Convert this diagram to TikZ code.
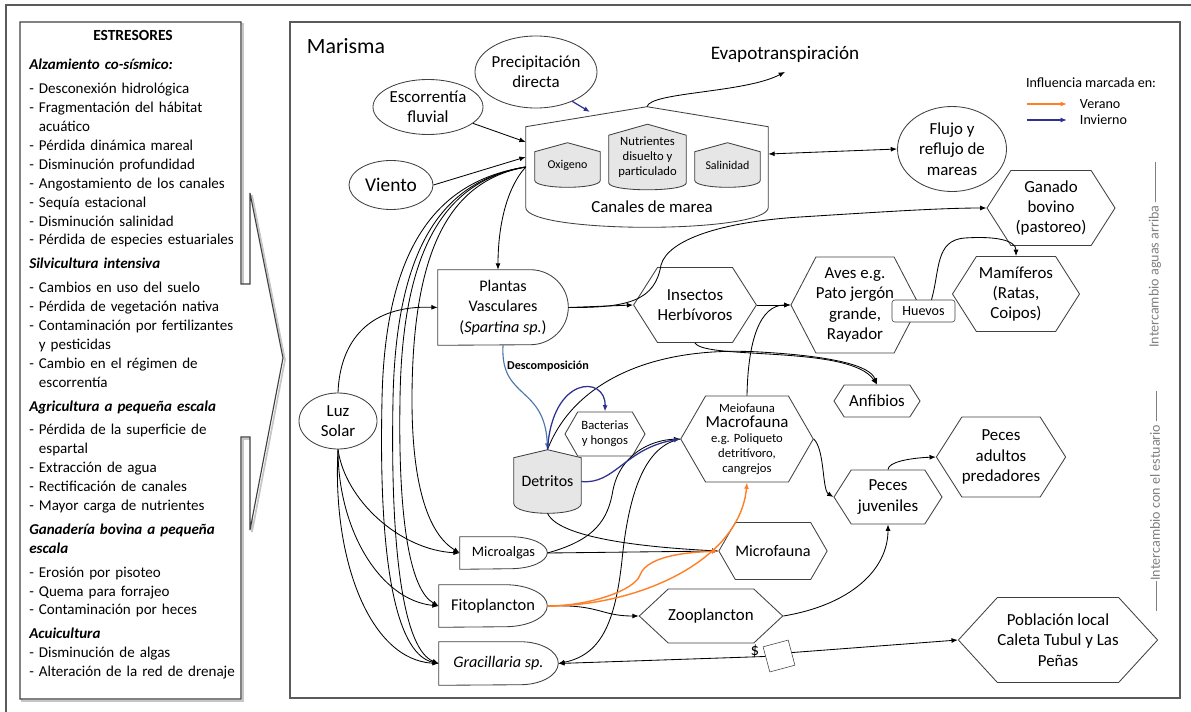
\documentclass[tikz,border=0pt]{standalone}
\usepackage{fontspec}
\setmainfont{Carlito}
\usepackage{xcolor}
\definecolor{borde}{HTML}{404040}
\definecolor{marco}{HTML}{5A5A5A}
\definecolor{relleno}{HTML}{E6E6E6}
\definecolor{verano}{HTML}{FF7F27}
\definecolor{invierno}{HTML}{2E3192}
\definecolor{descomp}{HTML}{4A76A8}
\definecolor{rotulo}{HTML}{7F7F7F}
\usepackage{tikz}
\usetikzlibrary{shapes.geometric, shapes.symbols, arrows.meta, positioning, backgrounds}

\begin{document}
\begin{tikzpicture}[
  x=0.025cm, y=0.025cm,
  font=\fontsize{12}{14.5}\selectfont,
  every node/.style={align=center},
  chica/.style={font=\fontsize{9}{10.7}\selectfont},
  ovalo/.style={ellipse, draw=borde, line width=0.6pt, inner sep=-4pt},
  hexa/.style={signal, signal to=east and west, signal pointer angle=115,
    draw=borde, line width=0.6pt, inner sep=0pt},
  dnodo/.style={rectangle, inner sep=0pt},
  cuba/.style={rectangle, inner sep=0pt},
  arrow/.style={-{Latex[length=4.5pt,width=3.5pt]}, line width=0.6pt, color=black},
  veranoflecha/.style={arrow, color=verano, line width=1pt},
  inviernoflecha/.style={arrow, color=invierno, line width=0.9pt},
]
  \useasboundingbox (0,0) rectangle (1191,-711);

  % marcos
  \draw[marco, line width=1pt] (6,-713) |- (1193,-5);
  \draw[marco, line width=1pt] (290,-22) rectangle (1180,-698);
  \draw[gray!45, line width=1.2pt, shift={(2,-2)}] (20,-22) -- (241,-22) -- (241,-284) -- (250,-284)
    -- (250,-193) -- (283,-358) -- (250,-530) -- (250,-437) -- (241,-437) -- (241,-699) -- (20,-699) -- cycle;
  \draw[borde, line width=0.8pt, fill=white] (20,-22) -- (241,-22) -- (241,-284) -- (250,-284)
    -- (250,-193) -- (283,-358) -- (250,-530) -- (250,-437) -- (241,-437) -- (241,-699) -- (20,-699) -- cycle;

  % estresores
  \node[font=\fontsize{11}{13}\selectfont\bfseries] (titulo) at (133,-35) {ESTRESORES};
  \node[anchor=north west, inner sep=0pt, text width=5.4cm, align=left,
    font=\fontsize{10.7}{13.45}\selectfont] (lista) at (29,-59) {%
    \textbf{\textit{Alzamiento co-sísmico:}}\\[3.5pt]
    - Desconexión hidrológica\\
    - Fragmentación del hábitat\\
    \hphantom{- }acuático\\
    - Pérdida dinámica mareal\\
    - Disminución profundidad\\
    - Angostamiento de los canales\\
    - Sequía estacional\\
    - Disminución salinidad\\
    - Pérdida de especies estuariales\\[3.5pt]
    \textbf{\textit{Silvicultura intensiva}}\\[3.5pt]
    - Cambios en uso del suelo\\
    - Pérdida de vegetación nativa\\
    - Contaminación por fertilizantes\\
    \hphantom{- }y pesticidas\\
    - Cambio en el régimen de\\
    \hphantom{- }escorrentía\\[3.5pt]
    \textbf{\textit{Agricultura a pequeña escala}}\\[3.5pt]
    - Pérdida de la superficie de\\
    \hphantom{- }espartal\\
    - Extracción de agua\\
    - Rectificación de canales\\
    - Mayor carga de nutrientes\\[3.5pt]
    \textbf{\textit{Ganadería bovina a pequeña}}\\
    \textbf{\textit{escala}}\\[3.5pt]
    - Erosión por pisoteo\\
    - Quema para forrajeo\\
    - Contaminación por heces\\[3.5pt]
    \textbf{\textit{Acuicultura}}\\
    - Disminución de algas\\
    - Alteración de la red de drenaje};

  % marisma
  \node[font=\fontsize{15.5}{17}\selectfont] (marisma) at (346,-46) {Marisma};
  \node[ovalo, minimum width=3.05cm, minimum height=1.8cm] (precip) at (536,-72) {Precipitación\\directa};
  \node[ovalo, minimum width=2.75cm, minimum height=1.375cm] (escorrentia) at (428,-107) {Escorrentía\\fluvial};
  \node[ovalo, minimum width=2.1cm, minimum height=1.225cm, font=\fontsize{13.8}{15}\selectfont] (viento) at (391,-185) {Viento};
  \node[ovalo, minimum width=2.725cm, minimum height=2.125cm] (flujo) at (952,-149) {Flujo y\\reflujo de\\mareas};
  \node[ovalo, minimum width=1.95cm, minimum height=1.4cm] (luz) at (338,-421) {Luz\\Solar};
  \node[font=\fontsize{13.6}{15}\selectfont] (evapo) at (785,-54) {Evapotranspiración};

  \node[cuba, minimum width=6.05cm, minimum height=3cm] (canales) at (647,-167) {};
  \node (canaleslbl) at (652,-207) {Canales de marea};
  \node[cuba, minimum width=1.625cm, minimum height=1.1cm, font=\fontsize{8.5}{10}\selectfont] (oxigeno) at (567.5,-165) {Oxigeno};
  \node[cuba, chica, minimum width=1.925cm, minimum height=1.625cm] (nutrientes) at (647.5,-157) {Nutrientes\\disuelto y\\particulado};
  \node[cuba, minimum width=1.625cm, minimum height=1.1cm, font=\fontsize{8.5}{10}\selectfont] (salinidad) at (727.5,-165) {Salinidad};
  \coordinate (techo) at (590,-112);

  % leyenda
  \node[font=\fontsize{10}{12}\selectfont] (leyenda) at (1091,-83) {Influencia marcada en:};
  \node[font=\fontsize{10}{12}\selectfont, anchor=west] (verano) at (1075,-104) {Verano};
  \node[font=\fontsize{10}{12}\selectfont, anchor=west] (invierno) at (1075,-120) {Invierno};

  % productores
  \node[dnodo, minimum width=3.25cm, minimum height=1.875cm, font=\fontsize{11.5}{14.5}\selectfont] (plantas) at (503,-307.5) {Plantas\\Vasculares\\(\textit{Spartina sp.})};
  \node[dnodo, minimum width=2.175cm, minimum height=0.8cm, font=\fontsize{10.2}{11}\selectfont] (microalgas) at (503.5,-553) {Microalgas};
  \node[dnodo, minimum width=2.7cm, minimum height=1.05cm, font=\fontsize{11.7}{13}\selectfont] (fito) at (493,-606) {Fitoplancton};
  \node[dnodo, minimum width=2.975cm, minimum height=1.075cm, font=\fontsize{11.5}{13}\selectfont] (gracillaria) at (498.5,-663.5) {\textit{Gracillaria sp.}};
  \node[cuba, minimum width=1.675cm, minimum height=1.575cm, font=\fontsize{11.3}{13}\selectfont] (detritos) at (547.5,-481.5) {Detritos};
  \node[font=\fontsize{8.6}{10}\selectfont\bfseries] (descomp) at (548,-366) {Descomposición};

  % consumidores
  \node[hexa, minimum width=3.2cm, minimum height=1.875cm] (ganado) at (1051,-208) {Ganado\\bovino\\(pastoreo)};
  \node[hexa, minimum width=2.625cm, minimum height=1.875cm] (insectos) at (695,-305) {Insectos\\Herbívoros};
  \node[hexa, minimum width=3.125cm, minimum height=2.4cm, signal pointer angle=125] (aves) at (855,-305) {Aves e.g.\\Pato jergón\\grande,\\Rayador};
  \node[hexa, minimum width=3.175cm, minimum height=1.875cm] (mamiferos) at (1016,-294) {Mamíferos\\(Ratas,\\Coipos)};
  \node[hexa, minimum width=2.15cm, minimum height=0.8cm] (anfibios) at (877,-401) {Anfibios};
  \node[hexa, chica, minimum width=3.125cm, minimum height=2.15cm, signal pointer angle=120] (meio) at (747,-439)
    {Meiofauna\\\fontsize{12}{13}\selectfont Macrofauna\\e.g. Poliqueto\\detritívoro,\\cangrejos};
  \node[hexa, chica, minimum width=2cm, minimum height=1.1cm, signal pointer angle=120] (bacterias) at (605,-434) {Bacterias\\y hongos};
  \node[hexa, minimum width=2.7cm, minimum height=1.35cm] (pecesjuv) at (888,-497) {Peces\\juveniles};
  \node[hexa, minimum width=2.95cm, minimum height=2cm] (pecesad) at (1001,-457) {Peces\\adultos\\predadores};
  \node[hexa, minimum width=2.9cm, minimum height=1.35cm, signal pointer angle=86] (zooplancton) at (711,-616) {Zooplancton};
  \node[hexa, minimum width=2.25cm, minimum height=1.425cm, signal pointer angle=120, font=\fontsize{11.5}{13}\selectfont] (microfauna) at (773,-551) {Microfauna};
  \node[hexa, minimum width=3.85cm, minimum height=2.125cm, signal pointer angle=95] (poblacion) at (1058,-640) {Población local\\Caleta Tubul y Las\\Peñas};
  \node[draw=borde, fill=white, rounded corners=2pt, minimum width=1.575cm, minimum height=0.55cm,
    inner sep=1pt, font=\fontsize{10}{11}\selectfont] (huevos) at (923.5,-311) {Huevos};
  \node[draw=borde, rotate=15, minimum size=0.65cm, inner sep=0pt] (caja) at (779,-656) {};
  \node (dolar) at (755,-651) {\$};

  % intercambios
  \node[rotate=90, text=rotulo, font=\fontsize{10}{11}\selectfont] (aguasarriba) at (1155,-255)
    {Intercambio aguas arriba \rule[0.5ex]{1cm}{0.4pt}};
  \node[rotate=90, text=rotulo, font=\fontsize{10}{11}\selectfont] (estuario) at (1155,-501)
    {\rule[0.5ex]{0.75cm}{0.4pt}Intercambio con el estuario \rule[0.5ex]{0.75cm}{0.4pt}};

  % agua
  \draw[inviernoflecha] (precip.321) -- (techo);
  \draw[arrow] (escorrentia.340) -- ([yshift=0.625cm]canales.west);
  \draw[arrow] (viento.east) -- ([yshift=0.25cm]canales.west);
  \draw[{Latex[length=4.5pt,width=3.5pt]}-{Latex[length=4.5pt,width=3.5pt]}, line width=0.6pt]
    ([yshift=0.325cm]canales.east) -- (flujo.west);
  \draw[arrow] (canales.north) .. controls (650,-92) and (745,-93) .. ([yshift=-0.12cm]evapo.south);
  \draw[veranoflecha] ([xshift=-1.2cm]verano.west) -- ([xshift=-0.2cm]verano.west);
  \draw[inviernoflecha] ([xshift=-1.2cm]invierno.west) -- ([xshift=-0.2cm]invierno.west);

  % canales y luz hacia productores
  \draw[arrow] (canales.west) .. controls (505,-190) and (498,-230) .. ([xshift=-0.125cm]plantas.north);
  \draw[arrow] (canales.west) .. controls (455,-180) and (412,-240) .. (412,-400)
    .. controls (412,-490) and (430,-535) .. (microalgas.west);
  \draw[arrow] (canales.west) .. controls (450,-180) and (402,-240) .. (400,-400)
    .. controls (398,-520) and (410,-590) .. (fito.west);
  \draw[arrow] (canales.west) .. controls (447,-180) and (396,-240) .. (393,-400)
    .. controls (390,-560) and (405,-650) .. (gracillaria.west);
  \draw[arrow] (canales.west) .. controls (442,-180) and (385,-240) .. (382,-400)
    .. controls (378,-580) and (400,-655) .. (gracillaria.west);
  \draw[arrow] (luz.north) .. controls (340,-340) and (370,-305) .. (plantas.west);
  \draw[arrow] (luz.south) .. controls (345,-500) and (400,-550) .. (microalgas.west);
  \draw[arrow] (luz.south) .. controls (338,-530) and (380,-600) .. (fito.west);
  \draw[arrow] (luz.south) .. controls (332,-560) and (370,-660) .. (gracillaria.west);

  % trama trofica
  \draw[arrow] (plantas.east) -- (insectos.west);
  \draw[arrow] (plantas.east) .. controls (630,-308) and (655,-300) .. (661,-265)
    .. controls (668,-240) and (720,-222) .. (800,-217) .. controls (880,-212) and (940,-208) .. (ganado.west);
  \draw[arrow] (insectos.east) -- (aves.west);
  \draw[arrow] (insectos.south) .. controls (705,-360) and (850,-345) .. (anfibios.north);
  \draw[arrow] (detritos.north) .. controls (570,-390) and (640,-345) .. (760,-352)
    .. controls (830,-356) and (870,-365) .. (anfibios.north);
  \draw[arrow] ([xshift=0.2cm]huevos.north) .. controls (940,-270) and (935,-240) .. (965,-238)
    .. controls (995,-236) and (1016,-240) .. (mamiferos.north);
  \draw[arrow] (meio.north) .. controls (748,-340) and (760,-305) .. (aves.west);
  \draw[arrow] (meio.east) .. controls (825,-450) and (822,-490) .. (pecesjuv.west);
  \draw[arrow] (pecesjuv.north) .. controls (888,-462) and (910,-458) .. (pecesad.west);
  \draw[arrow] (zooplancton.east) .. controls (850,-605) and (888,-570) .. (pecesjuv.south);
  \draw[arrow] (fito.east) .. controls (600,-604) and (600,-616) .. (zooplancton.west);
  \draw[arrow] (microalgas.east) -- (microfauna.west);
  \draw[arrow] (microalgas.east) .. controls (595,-540) and (608,-520) .. (613,-490)
    .. controls (620,-455) and (650,-440) .. (meio.west);
  \draw[arrow] (detritos.south) .. controls (555,-530) and (600,-545) .. (microfauna.west);
  \draw[arrow] (meio.west) .. controls (650,-445) and (630,-480) .. (622,-560)
    .. controls (615,-625) and (600,-655) .. (gracillaria.east);
  \draw[arrow] (caja) -- (gracillaria.east);
  \draw[arrow] (caja.east) -- (poblacion.west);

  % descomposicion
  \draw[arrow, color=descomp, line width=0.8pt] (plantas.south) .. controls (500,-400) and (545,-385) .. (detritos.north);
  \draw[inviernoflecha] (detritos.north) .. controls (552,-375) and (606,-375) .. (bacterias.north);
  \draw[inviernoflecha] (detritos.east) .. controls (615,-485) and (625,-448) .. (meio.west);

  % influencia de verano
  \draw[veranoflecha] (fito.east) .. controls (590,-606) and (635,-590) .. (640,-575)
    .. controls (648,-553) and (700,-552) .. (microfauna.west);
  \draw[veranoflecha] (fito.east) .. controls (640,-606) and (740,-560) .. (meio.south);

  % contornos
  \begin{scope}[on background layer]
    \foreach \n/\t/\b/\c in {canales/0.5/0.5/white, oxigeno/0.225/0.175/relleno,
        nutrientes/0.275/0.175/relleno, salinidad/0.225/0.175/relleno, detritos/0.2/0.25/relleno}
      \draw[borde, line width=0.6pt, fill=\c] (\n.north) -- ([yshift=-\t cm]\n.north east)
        -- ([yshift=\b cm]\n.south east) .. controls ([yshift={-\b cm/3}]\n.south east)
        and ([yshift={-\b cm/3}]\n.south west) .. ([yshift=\b cm]\n.south west)
        -- ([yshift=-\t cm]\n.north west) -- cycle;
    \foreach \n/\rx/\ry in {plantas/0.95/0.9375, microalgas/0.925/0.4, fito/1.05/0.525, gracillaria/0.95/0.5375}
      \draw[borde, line width=0.6pt, fill=white] (\n.south west) -- (\n.north west)
        -- ([xshift=-\rx cm]\n.north east) arc[start angle=90, end angle=-90, x radius=\rx cm, y radius=\ry cm]
        -- cycle;
  \end{scope}
\end{tikzpicture}
\end{document}
